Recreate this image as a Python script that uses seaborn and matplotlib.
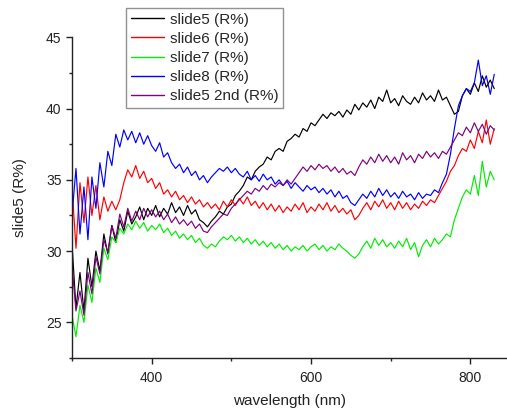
import numpy as np
import pandas as pd
import matplotlib
matplotlib.use("Agg")
import matplotlib.pyplot as plt
from matplotlib.ticker import MultipleLocator
import seaborn as sns

# Wavelength grid (nm)
wavelength = [
    300, 305, 310, 315, 320, 325, 330, 335, 340, 345, 350, 355, 360, 365, 370, 375, 380, 385, 390, 395, 400,
    405, 410, 415, 420, 425, 430, 435, 440, 445, 450, 455, 460, 465, 470, 475, 480, 485, 490, 495, 500,
    505, 510, 515, 520, 525, 530, 535, 540, 545, 550, 555, 560, 565, 570, 575, 580, 585, 590, 595, 600,
    605, 610, 615, 620, 625, 630, 635, 640, 645, 650, 655, 660, 665, 670, 675, 680, 685, 690, 695, 700,
    705, 710, 715, 720, 725, 730, 735, 740, 745, 750, 755, 760, 765, 770, 775, 780, 785, 790, 795, 800,
    805, 810, 815, 820, 825, 830,
]

# Reflectance (R%) for each sample
slide5 = [
    30.5, 26.0, 28.5, 25.8, 29.5, 27.5, 30.0, 28.6, 31.2, 29.8, 31.8, 30.6, 32.2, 31.4, 32.8, 31.9, 32.4, 33.1, 32.2, 33.0, 32.5,
    33.2, 32.4, 33.0, 32.6, 33.4, 32.7, 33.1, 32.5, 33.2, 32.6, 32.9, 32.2, 32.0, 31.7, 32.1, 32.4, 32.8, 32.6, 33.1, 33.3,
    33.9, 34.2, 34.6, 35.2, 35.0, 35.6, 35.9, 36.1, 36.6, 36.4, 37.0, 37.2, 37.0, 37.7, 37.9, 38.2, 38.0, 38.6, 38.4, 39.0,
    38.8, 39.2, 39.6, 39.3, 39.7, 39.5, 39.8, 39.4, 39.9, 39.6, 40.3, 39.9, 40.4, 40.1, 40.6, 40.0, 40.8, 40.5, 41.3, 40.4,
    40.7, 40.2, 40.9, 40.5, 40.3, 40.8, 40.4, 41.1, 40.6, 40.9, 40.5, 41.3, 40.6, 40.8, 40.2, 39.6, 39.8, 40.9, 41.4, 41.0,
    41.8, 41.2, 42.3, 41.5, 42.0, 41.4,
]
slide6 = [
    34.5, 30.2, 34.8, 32.0, 35.2, 32.5, 34.6, 32.2, 33.8, 32.8, 33.5, 32.9, 33.6, 34.8, 35.7, 35.2, 36.0, 35.1, 35.6, 34.8, 35.1,
    34.4, 34.8, 34.0, 34.3, 33.8, 34.2, 33.6, 33.9, 33.4, 33.8, 33.3, 33.6, 33.1, 33.4, 33.0, 33.3, 32.9, 33.5, 33.1, 33.6,
    33.2, 33.7, 33.3, 33.8, 33.2, 33.5, 33.0, 33.4, 32.9, 33.3, 32.8, 33.2, 32.7, 33.1, 32.8, 33.3, 32.9, 33.4, 32.7, 33.1,
    32.8, 33.3, 32.9, 33.4, 32.8, 33.2, 32.7, 33.0, 32.6, 32.9, 32.2, 32.5, 33.0, 33.4, 32.9, 33.5, 33.1, 33.6, 33.0, 33.4,
    32.9, 33.5, 33.0, 33.4, 32.9, 33.3, 33.0, 33.5, 33.2, 33.6, 33.4, 33.9, 34.4, 34.9, 35.6, 36.0, 36.7, 37.2, 37.0, 37.8,
    37.2, 38.4, 37.6, 39.2, 37.5, 38.6,
]
slide7 = [
    25.5, 24.0, 26.2, 25.0, 27.6, 26.4, 28.8, 27.8, 30.2, 29.4, 31.0, 30.6, 31.6, 31.2, 31.9, 31.5, 32.1, 31.6, 32.0, 31.4, 31.8,
    31.5, 31.9, 31.3, 31.6, 31.1, 31.4, 30.9, 31.2, 30.8, 31.1, 30.6, 30.9, 30.4, 30.2, 30.5, 30.3, 30.7, 31.0, 30.8, 31.1,
    30.7, 31.0, 30.6, 30.9, 30.5, 30.8, 30.4, 30.7, 30.3, 30.6, 30.2, 30.5, 30.1, 30.4, 30.0, 30.3, 30.1, 30.4, 30.0, 30.3,
    30.5, 30.1, 30.4, 30.0, 30.3, 30.1, 30.5, 30.2, 30.0, 29.7, 29.5, 29.8, 30.3, 30.7, 30.2, 30.9, 30.4, 30.8, 30.3, 30.6,
    30.2, 30.7, 30.3, 30.9, 30.1, 30.6, 29.6, 30.4, 30.8, 30.3, 30.9, 30.5, 30.8, 31.2, 31.0, 32.2, 33.0, 33.8, 34.3, 34.0,
    35.3, 33.9, 36.3, 34.5, 35.6, 35.0,
]
slide8 = [
    32.5, 35.8, 31.2, 34.5, 30.8, 35.2, 33.0, 36.2, 34.5, 37.0, 36.0, 38.2, 37.3, 38.5, 37.8, 38.4, 37.6, 38.3, 37.5, 38.1, 37.4,
    37.0, 37.6, 36.6, 36.9, 36.2, 35.8, 36.1, 35.5, 35.9, 35.3, 35.6, 35.0, 35.3, 34.8, 35.2, 35.5, 35.8, 35.6, 35.9, 35.5,
    35.8, 35.4, 35.2, 35.6, 35.0, 35.3, 34.9, 35.4, 35.0, 35.2, 34.7, 35.0, 34.6, 34.9, 34.4, 34.8, 34.5, 34.2, 34.6, 34.3,
    34.5, 34.1, 34.4, 34.0, 34.3, 33.8, 34.2, 33.7, 33.9, 33.4, 33.2, 33.6, 34.0, 33.7, 34.2, 33.8, 34.4, 33.9, 34.3, 33.8,
    34.1, 33.7, 34.2, 33.8, 34.0, 33.6, 34.1, 33.7, 34.0, 33.9, 34.3, 34.1, 34.8, 35.4, 36.8, 38.6, 40.2, 40.9, 41.4, 41.2,
    41.8, 43.4, 41.6, 42.3, 41.0, 42.4,
]
slide5_2nd = [
    29.0, 25.8, 27.2, 25.5, 28.5, 27.0, 29.6, 28.4, 30.8, 29.9, 31.8, 30.9, 32.6, 31.7, 33.0, 32.1, 32.8, 32.2, 33.0, 32.4, 32.9,
    32.4, 32.8, 32.2, 32.6, 32.0, 32.4, 31.9, 32.2, 31.8, 32.1, 31.6, 31.9, 31.4, 31.3, 31.7, 32.0, 32.3, 32.6, 32.5, 33.0,
    33.3, 33.6, 33.9, 34.2, 34.0, 34.4, 34.2, 34.6, 34.3, 34.7, 34.5, 34.8, 34.6, 35.0, 34.7, 35.1, 35.5, 35.9, 35.6, 36.0,
    35.7, 36.1, 35.8, 36.0, 35.6, 35.9, 35.5, 35.8, 35.4, 35.6, 35.3, 35.9, 36.4, 36.1, 36.6, 36.2, 36.8, 36.3, 36.7, 36.2,
    36.6, 36.1, 36.9, 36.4, 36.7, 36.2, 36.8, 36.5, 37.0, 36.6, 36.9, 36.5, 37.0, 36.8, 37.3, 37.8, 38.3, 38.1, 38.7, 38.3,
    39.0, 38.4, 38.9, 38.2, 38.8, 38.5,
]

series_names = ["slide5 (R%)", "slide6 (R%)", "slide7 (R%)", "slide8 (R%)", "slide5 2nd (R%)"]
series_values = [slide5, slide6, slide7, slide8, slide5_2nd]
colors = ["#000000", "#ff0000", "#00ee00", "#0000ff", "#800080"]

frames = [
    pd.DataFrame({"wavelength": wavelength, "R": vals, "sample": name})
    for name, vals in zip(series_names, series_values)
]
df = pd.concat(frames, ignore_index=True)

sns.set_theme(style="ticks")
plt.rcParams["font.family"] = ["Liberation Sans", "DejaVu Sans"]

fig = plt.figure(figsize=(5.07, 4.12), dpi=100)
ax = fig.add_axes([72 / 507, 1 - 358 / 412, 1 - 72 / 507, (358 - 37.3) / 412])

sns.lineplot(
    data=df, x="wavelength", y="R", hue="sample",
    hue_order=series_names, palette=dict(zip(series_names, colors)),
    estimator=None, sort=False, linewidth=0.85, ax=ax,
)

ax.set_xlim(300, 846)
ax.set_ylim(22.5, 45)
ax.xaxis.set_major_locator(MultipleLocator(200))
ax.xaxis.set_minor_locator(MultipleLocator(100))
ax.yaxis.set_major_locator(MultipleLocator(5))
ax.yaxis.set_minor_locator(MultipleLocator(2.5))

for side in ("top", "right"):
    ax.spines[side].set_visible(False)
for side in ("left", "bottom"):
    ax.spines[side].set_color("#222222")
    ax.spines[side].set_linewidth(1.0)

ax.tick_params(which="major", direction="out", length=4, width=1.0, color="#222222",
               labelsize=10, labelcolor="#222222")
ax.tick_params(axis="x", which="major", pad=5.5)
ax.tick_params(axis="y", which="major", pad=3.5)
ax.tick_params(which="minor", direction="out", length=2.5, width=1.0, color="#222222")

ax.set_xlabel("wavelength (nm)", fontsize=11, color="#222222", labelpad=6.5)
ax.set_ylabel("slide5 (R%)", fontsize=11, color="#222222", labelpad=14)

handles, labels = ax.get_legend_handles_labels()
leg = ax.legend(
    handles, labels, loc="upper left",
    bbox_to_anchor=(126 / 507, 1 - 8 / 412), bbox_transform=fig.transFigure,
    fontsize=11, frameon=True, fancybox=False, shadow=False,
    handlelength=2.2, handletextpad=0.35, labelspacing=0.34,
    borderpad=0.3, borderaxespad=0.0,
)
leg.get_frame().set_edgecolor("#777777")
leg.get_frame().set_linewidth(1.0)
for line in leg.get_lines():
    line.set_linewidth(1.0)

fig.savefig("out.png", dpi=100, facecolor="white")
